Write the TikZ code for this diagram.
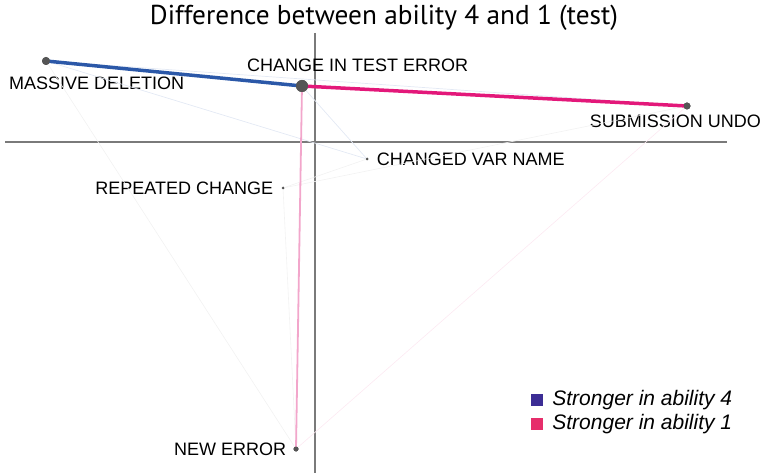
\documentclass[tikz,border=0pt]{standalone}
\usepackage{fontspec}
\setmainfont{Liberation Sans}
\newfontfamily\titlefont{PT Sans}
\usetikzlibrary{positioning}

\definecolor{dotgrey}{HTML}{555555}
\definecolor{axisgrey}{HTML}{7A7A7A}
\definecolor{edgeblue}{HTML}{2B58A8}
\definecolor{edgemagenta}{HTML}{E3187A}
\definecolor{edgepink}{HTML}{F2A6CB}
\definecolor{keyblue}{HTML}{3C2D95}
\definecolor{keypink}{HTML}{E62E6B}

\tikzset{
    dot/.style={circle, fill=dotgrey, inner sep=0pt, minimum size=#1},
    lbl/.style={font=\fontsize{18}{19}\selectfont, inner sep=0pt},
    keytext/.style={font=\fontsize{21}{22}\selectfont\itshape, inner sep=0pt, anchor=west},
    keybox/.style={inner sep=0pt, minimum size=12pt},
    faint/.style={line width=0.6pt, draw=black!5},
    faintblue/.style={line width=0.7pt, draw=edgeblue!13},
    faintpink/.style={line width=0.6pt, draw=edgepink!25},
    axis/.style={line width=1.1pt, draw=axisgrey}
}

\begin{document}
\begin{tikzpicture}[x=1pt, y=-1pt]
        \useasboundingbox (0,0) rectangle (764,473);

        % title
        \node[font=\titlefont\fontsize{27.3}{28}\selectfont, inner sep=0pt] (title) at (384,18) {Difference between ability 4 and 1 (test)};

        % axes
        \coordinate (xl) at (5,142);
        \coordinate (xr) at (727,142);
        \coordinate (yt) at (315,33);
        \coordinate (yb) at (315,473);
        \draw[axis] (xl) -- (xr);
        \draw[axis] (yt) -- (yb);

        % events
        \node[dot=8pt]  (md)   at (46,61)   {};
        \node[dot=12pt] (cite) at (302,86)  {};
        \node[dot=7pt]  (su)   at (687,106) {};
        \node[dot=3pt]  (cvn)  at (367,159) {};
        \node[dot=3pt]  (rc)   at (283,188) {};
        \node[dot=5pt]  (ne)   at (296,449) {};

        \node[lbl, anchor=west] (mdlabel)   at (9,83)   {MASSIVE DELETION};
        \node[lbl, anchor=west] (citelabel) at (247,65) {CHANGE IN TEST ERROR};
        \node[lbl, anchor=east] (sulabel)   at (761,121) {SUBMISSION UNDO};
        \node[lbl, right=8pt of cvn] (cvnlabel) {CHANGED VAR NAME};
        \node[lbl, left=8pt of rc]   (rclabel)  {REPEATED CHANGE};
        \node[lbl, left=7pt of ne]   (nelabel)  {NEW ERROR};

        % weak links
        \draw[faintblue] (md) -- (su);
        \draw[faintblue] (md) -- (cvn);
        \draw[faint] (md) -- (ne);
        \draw[faintblue] (cite) -- (cvn);
        \draw[faint] (rc) -- (cvn);
        \draw[faint] (rc) -- (su);
        \draw[faint] (rc) -- (ne);
        \draw[faintpink] (ne) -- (su);

        % strong links
        \draw[edgepink, line width=1.8pt] (cite.center) -- (ne.center);
        \draw[edgeblue, line width=3.5pt] (md.center) -- (cite.center);
        \draw[edgemagenta, line width=3.5pt] (cite.center) -- (su.center);

        \node[dot=8pt]  at (md)   {};
        \node[dot=12pt] at (cite) {};
        \node[dot=7pt]  at (su)   {};
        \node[dot=5pt]  at (ne)   {};

        % legend
        \node[keybox, fill=keyblue] (key4) at (537,400) {};
        \node[keybox, fill=keypink] (key1) at (537,424) {};
        \node[keytext, right=9pt of key4] (key4text) {Stronger in ability 4};
        \node[keytext, right=9pt of key1] (key1text) {Stronger in ability 1};
    \end{tikzpicture}
\end{document}
